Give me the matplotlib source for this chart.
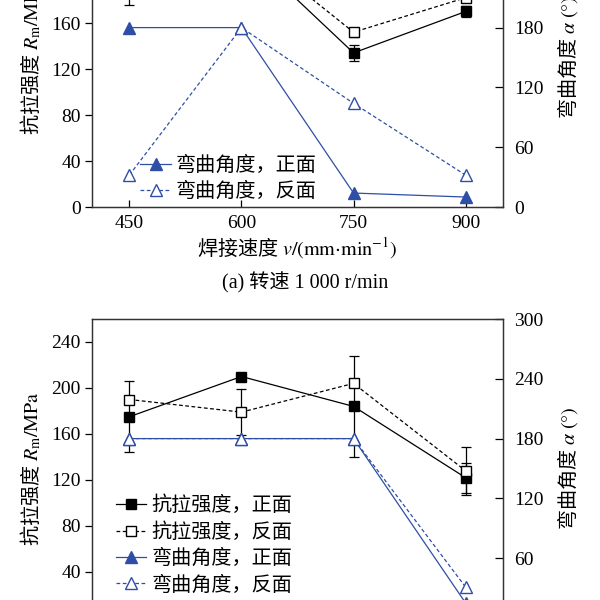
import matplotlib
matplotlib.use('Agg')
import matplotlib.pyplot as plt
from matplotlib.lines import Line2D

plt.rcParams['font.family'] = ['Liberation Serif', 'Noto Sans CJK SC']
plt.rcParams['mathtext.fontset'] = 'stix'
plt.rcParams['axes.unicode_minus'] = False

speed = [450, 600, 750, 900]

# (a) 转速 1 000 r/min
a_rm_front = [200, 226, 134, 170]
a_rm_front_err = [24, 6, 7, 5]
a_rm_back = [210, 230, 152, 182]
a_rm_back_err = [10, 6, 4, 4]
a_ang_front = [180, 180, 14, 10]
a_ang_back = [32, 180, 104, 32]

# (b) 第二组
b_rm_front = [175, 210, 184, 122]
b_rm_front_err = [31, 0, 44, 13]
b_rm_back = [190, 179, 204, 128]
b_rm_back_err = [0, 20, 0, 21]
b_ang_front = [180, 180, 180, 15]
b_ang_back = [180, 180, 180, 31]

labels = ['抗拉强度，正面', '抗拉强度，反面', '弯曲角度，正面', '弯曲角度，反面']

blue = '#2F4EA6'
fs = 14
lw = 0.9
dash = (0, (3, 2))
cjk = ['Noto Sans CJK SC', 'Liberation Serif']

fig = plt.figure(figsize=(6, 6), dpi=100)
ax_a = fig.add_axes([92/600, 1-207/600, 411/600, 299/600])
ax_b = fig.add_axes([92/600, 1-618/600, 411/600, 299/600])

# 图例句柄（不带误差棒）
handles = [
    Line2D([], [], color='k', lw=lw, marker='s', ms=7, mfc='k', mec='k'),
    Line2D([], [], color='k', lw=lw, ls=dash, marker='s', ms=7, mfc='white', mec='k'),
    Line2D([], [], color=blue, lw=lw, marker='^', ms=9, mfc=blue, mec=blue),
    Line2D([], [], color=blue, lw=lw, ls=dash, marker='^', ms=9, mfc='white', mec=blue),
]


def panel(ax, rm_f, rm_f_err, rm_b, rm_b_err, ang_f, ang_b):
    ax2 = ax.twinx()
    ax.errorbar(speed, rm_f, yerr=rm_f_err, color='k', lw=lw, marker='s', ms=7,
                mfc='k', mec='k', ecolor='k', elinewidth=lw, capsize=3.5, capthick=lw, zorder=3)
    ax.errorbar(speed, rm_b, yerr=rm_b_err, color='k', lw=lw, ls=dash, marker='s', ms=7,
                mfc='white', mec='k', ecolor='k', elinewidth=lw, capsize=3.5, capthick=lw, zorder=3)
    ax2.plot(speed, ang_f, color=blue, lw=lw, marker='^', ms=9, mfc=blue, mec=blue)
    ax2.plot(speed, ang_b, color=blue, lw=lw, ls=dash, marker='^', ms=9, mfc='white', mec=blue)

    ax.set_xlim(400, 950)
    ax.set_xticks(speed)
    ax.set_ylim(0, 260)
    ax.set_yticks(range(0, 241, 40))
    ax2.set_ylim(0, 300)
    ax2.set_yticks(range(0, 301, 60))

    ax.tick_params(axis='x', direction='in', length=5, width=lw, labelsize=fs, pad=6)
    ax.tick_params(axis='y', direction='out', length=5, width=lw, labelsize=fs, pad=3)
    ax2.tick_params(axis='y', direction='in', length=6, width=lw, labelsize=fs, pad=8)
    for a in (ax, ax2):
        for s in a.spines.values():
            s.set_linewidth(lw)
            s.set_color('#333333')

    ax.set_ylabel('抗拉强度 $R_{\\mathrm{m}}/\\mathrm{MPa}$', fontsize=fs + 0.5,
                  family=cjk, labelpad=6)
    ax2.set_ylabel('弯曲角度 $\\alpha\\ \\mathrm{(°)}$', fontsize=fs + 0.5,
                   family=cjk, labelpad=8)
    return ax2


ax2_a = panel(ax_a, a_rm_front, a_rm_front_err, a_rm_back, a_rm_back_err,
              a_ang_front, a_ang_back)
ax_a.set_xlabel('焊接速度 $v/(\\mathrm{mm}{\\cdot}\\mathrm{min}^{-1})$', fontsize=fs + 0.5,
                family=cjk, labelpad=2)
ax2_a.legend(handles=handles[2:], labels=labels[2:], loc='center left',
             bbox_to_anchor=(0.118, 0.093), frameon=False, fontsize=fs + 0.5,
             borderpad=0, borderaxespad=0, handlelength=1.5, handletextpad=0.25,
             labelspacing=0.35)
fig.text(305/600, 1-283/600, '(a) 转速 1 000 r/min', fontsize=fs + 0.5,
         ha='center', va='center')

ax2_b = panel(ax_b, b_rm_front, b_rm_front_err, b_rm_back, b_rm_back_err,
              b_ang_front, b_ang_back)
ax2_b.legend(handles=handles, labels=labels, loc='center left',
             bbox_to_anchor=(0.058, 0.241), frameon=False, fontsize=fs + 0.5,
             borderpad=0, borderaxespad=0, handlelength=1.5, handletextpad=0.25,
             labelspacing=0.35)

fig.savefig('out.png', dpi=100)
